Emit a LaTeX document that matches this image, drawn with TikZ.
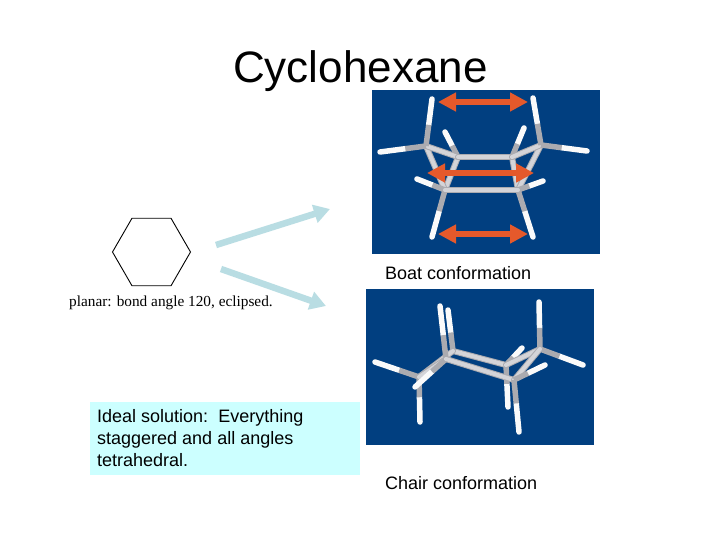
\documentclass[tikz,border=0pt]{standalone}
\usepackage{xcolor}
\usepackage{fontspec}
\setmainfont{Liberation Sans}
\newfontfamily\capfont{Liberation Serif}
\usetikzlibrary{
  arrows.meta,
  shapes.geometric,
  positioning,
  calc
}
\definecolor{csPanel}{HTML}{013F80}
\definecolor{csOrange}{HTML}{E5592B}
\definecolor{csArrow}{HTML}{B9DDE3}
\definecolor{csBox}{HTML}{CCFFFF}
\definecolor{csBond}{HTML}{ABABB0}
\definecolor{csLit}{HTML}{D4D4D8}
\tikzset{
  panel/.style={fill=csPanel, inner sep=0pt, anchor=north west},
  titletext/.style={font=\fontsize{44}{48}\selectfont, inner sep=0pt, anchor=base west},
  labeltext/.style={font=\fontsize{18}{22}\selectfont, inner sep=0pt, anchor=base west},
  ringbond/.style={line width=6pt, csBond, line cap=round},
  ringlit/.style={line width=4pt, csLit, line cap=round},
  hwhite/.style={line width=5.5pt, white!94!csBond, line cap=round},
  hgrey/.style={line width=5.5pt, csBond},
  measure/.style={{Triangle[length=18pt,width=18pt]}-{Triangle[length=18pt,width=18pt]}, line width=6pt, csOrange},
  fan/.style={-{Triangle[length=16pt,width=18pt]}, line width=6.5pt, csArrow}
}
\newcommand{\ringpair}[2]{%
  \draw[ringbond] (#1) -- (#2);
  \draw[ringlit] (#1) -- (#2);
}
\newcommand{\hbond}[2]{%
  \draw[hwhite] (#2) -- ($(#1)!0.45!(#2)$);
  \draw[hgrey] (#1) -- ($(#1)!0.45!(#2)$);
}
\begin{document}
\begin{tikzpicture}[x=1pt, y=-1pt]
  \useasboundingbox (0,0) rectangle (720,540);
  \fill[white] (0,0) rectangle (720,540);

  \node[titletext] (title) at (233,83) {Cyclohexane};

  \node[regular polygon, regular polygon sides=6, draw, line width=0.9pt, inner sep=0pt, minimum size=78pt] (hexagon) at (151.5,252) {};
  \node[font=\capfont\fontsize{15.3}{16}\selectfont, inner sep=0pt, anchor=base west] (planar) at (69,306) {planar: bond angle 120, eclipsed.};

  \coordinate (fanA) at (216,245);
  \coordinate (fanB) at (330,209);
  \coordinate (fanC) at (221,269);
  \coordinate (fanD) at (326,306);
  \draw[fan] (fanA) -- (fanB);
  \draw[fan] (fanC) -- (fanD);

  \node[panel, minimum width=228pt, minimum height=164pt] (boat) at (372,90) {};
  \node[labeltext] (boatlabel) at (385,279) {Boat conformation};

  \foreach \n/\x/\y in {bA/426/146, bB/458/157, bC/512/157, bD/541/145, bE/445/190, bF/518/190,
    hA/432/99, hB/380/152, hC/445/132, hD/524/128, hE/533/98, hF/587/151,
    hG/417/179, hH/432/237, hI/543/181, hJ/533/237}
    \coordinate (\n) at (\x,\y);
  \hbond{bB}{hC}
  \hbond{bC}{hD}
  \ringpair{bB}{bE}
  \ringpair{bC}{bF}
  \ringpair{bA}{bE}
  \ringpair{bD}{bF}
  \ringpair{bA}{bB}
  \ringpair{bB}{bC}
  \ringpair{bC}{bD}
  \hbond{bA}{hA}
  \hbond{bA}{hB}
  \hbond{bD}{hE}
  \hbond{bD}{hF}
  \hbond{bE}{hG}
  \hbond{bE}{hH}
  \hbond{bF}{hI}
  \hbond{bF}{hJ}
  \ringpair{bE}{bF}

  \coordinate (gapA) at (438,102);
  \coordinate (gapB) at (528,102);
  \coordinate (gapC) at (427,173);
  \coordinate (gapD) at (534,173);
  \coordinate (gapE) at (438,234);
  \coordinate (gapF) at (528,234);
  \draw[measure] (gapA) -- (gapB);
  \draw[measure] (gapC) -- (gapD);
  \draw[measure] (gapE) -- (gapF);

  \node[panel, minimum width=228pt, minimum height=156pt] (chair) at (366,289) {};
  \node[labeltext] (chairlabel) at (385,489) {Chair conformation};

  \foreach \n/\x/\y in {cA/419/377, cB/446/359, cC/453/351, cD/506/365, cE/540/349, cF/514/380,
    kA/375/362, kB/420/422, kC/440/306, kD/415/387, kE/448/310, kF/522/348,
    kG/508/407, kH/539/302, kI/583/365, kJ/545/365, kK/519/432}
    \coordinate (\n) at (\x,\y);
  \hbond{cD}{kF}
  \hbond{cD}{kG}
  \ringpair{cC}{cD}
  \ringpair{cD}{cE}
  \hbond{cC}{kE}
  \ringpair{cA}{cC}
  \hbond{cE}{kH}
  \hbond{cE}{kI}
  \hbond{cA}{kA}
  \hbond{cA}{kB}
  \ringpair{cA}{cB}
  \hbond{cB}{kC}
  \hbond{cB}{kD}
  \ringpair{cB}{cF}
  \ringpair{cE}{cF}
  \hbond{cF}{kJ}
  \hbond{cF}{kK}

  \node[fill=csBox, inner sep=0pt, anchor=north west, minimum width=270pt, minimum height=73pt] (idealbox) at (90,402) {};
  \node[labeltext, anchor=north west, align=left] (ideal) at (97,409) {Ideal solution:\ \ Everything\\staggered and all angles\\tetrahedral.};
\end{tikzpicture}
\end{document}
